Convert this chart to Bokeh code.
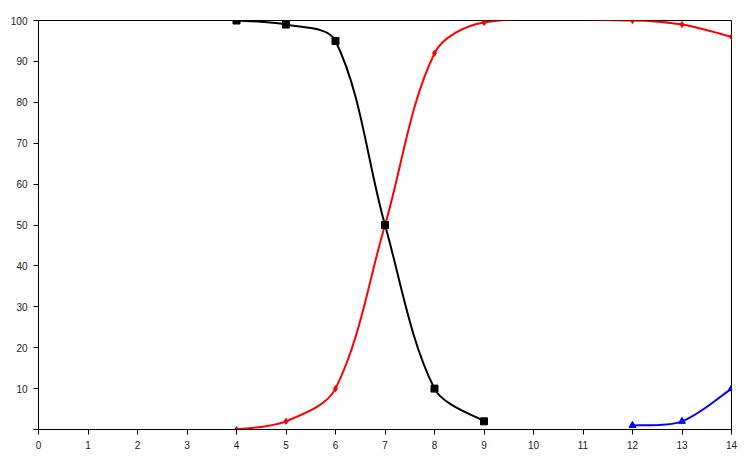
import math
from bokeh.plotting import figure
from bokeh.models import ColumnDataSource, Range1d, FixedTicker
from bokeh.embed import file_html
from bokeh.resources import INLINE

black_x = [4, 5, 6, 7, 8, 9]
black_y = [100, 99, 95, 50, 10, 2]
red_x = [4, 5, 6, 7, 8, 9, 12, 13, 14]
red_y = [0, 2, 10, 50, 92, 99.5, 100, 99, 96]
blue_x = [12, 13, 14]
blue_y = [1, 2, 10]
x_ticks = list(range(0, 15))
y_ticks = list(range(0, 101, 10))

W, H = 742, 457
BL, BR, BT, BB = 38, 11, 20, 28
SX = (W - BL - BR) / 14.0   # px per x unit
SY = (H - BT - BB) / 100.0  # px per y unit


def smooth_segments(xs, ys):
    # Excel-style smoothed line: cubic Bezier segments through the data points,
    # tangent lengths proportional to the on-screen segment lengths
    n = len(xs)

    def dist(i, j):
        return math.hypot((xs[j] - xs[i]) * SX, (ys[j] - ys[i]) * SY)

    d = dict(x0=[], y0=[], x1=[], y1=[], cx0=[], cy0=[], cx1=[], cy1=[])
    for i in range(n - 1):
        j = i + 1
        seg = dist(i, j)
        if i > 0:
            f = seg / (dist(i - 1, i) + seg) / 3.0
            tx, ty = xs[j] - xs[i - 1], ys[j] - ys[i - 1]
        else:
            f = 1 / 6.0
            tx, ty = xs[j] - xs[i], ys[j] - ys[i]
        cx0, cy0 = xs[i] + tx * f, ys[i] + ty * f
        if j + 1 < n:
            f = seg / (seg + dist(j, j + 1)) / 3.0
            tx, ty = xs[j + 1] - xs[i], ys[j + 1] - ys[i]
        else:
            f = 1 / 6.0
            tx, ty = xs[j] - xs[i], ys[j] - ys[i]
        cx1, cy1 = xs[j] - tx * f, ys[j] - ty * f
        d["x0"].append(xs[i]); d["y0"].append(ys[i])
        d["x1"].append(xs[j]); d["y1"].append(ys[j])
        d["cx0"].append(cx0); d["cy0"].append(cy0)
        d["cx1"].append(cx1); d["cy1"].append(cy1)
    return ColumnDataSource(d)


p = figure(width=W, height=H, output_backend="svg", toolbar_location=None,
           x_range=Range1d(0, 14), y_range=Range1d(0, 100),
           min_border_left=BL, min_border_right=BR, min_border_top=BT, min_border_bottom=BB)
p.xgrid.visible = False
p.ygrid.visible = False
p.outline_line_color = "black"
p.outline_line_width = 1
p.background_fill_color = "white"
p.border_fill_color = "white"

for ax in (p.xaxis[0], p.yaxis[0]):
    ax.axis_line_color = "black"
    ax.major_tick_line_color = "black"
    ax.minor_tick_line_color = None
    ax.major_tick_in = 0
    ax.major_tick_out = 5
    ax.major_label_text_font = "Liberation Sans"
    ax.major_label_text_font_size = "10px"
    ax.major_label_text_color = "#222222"
    ax.major_label_standoff = 6

p.xaxis[0].ticker = FixedTicker(ticks=x_ticks)
p.yaxis[0].ticker = FixedTicker(ticks=y_ticks)
p.yaxis[0].major_label_overrides = {0: ""}

bz = dict(x0="x0", y0="y0", x1="x1", y1="y1", cx0="cx0", cy0="cy0", cx1="cx1", cy1="cy1")

p.bezier(source=smooth_segments(red_x, red_y), line_color="red", line_width=2, **bz)
p.scatter(red_x, red_y, marker="diamond", size=6, color="red")
p.bezier(source=smooth_segments(blue_x, blue_y), line_color="blue", line_width=2, **bz)
p.scatter(blue_x, blue_y, marker="triangle", size=7, color="blue")
p.bezier(source=smooth_segments(black_x, black_y), line_color="black", line_width=2, **bz)
p.scatter(black_x, black_y, marker="square", size=7, color="black")

open("out.html", "w").write(file_html(p, INLINE))
